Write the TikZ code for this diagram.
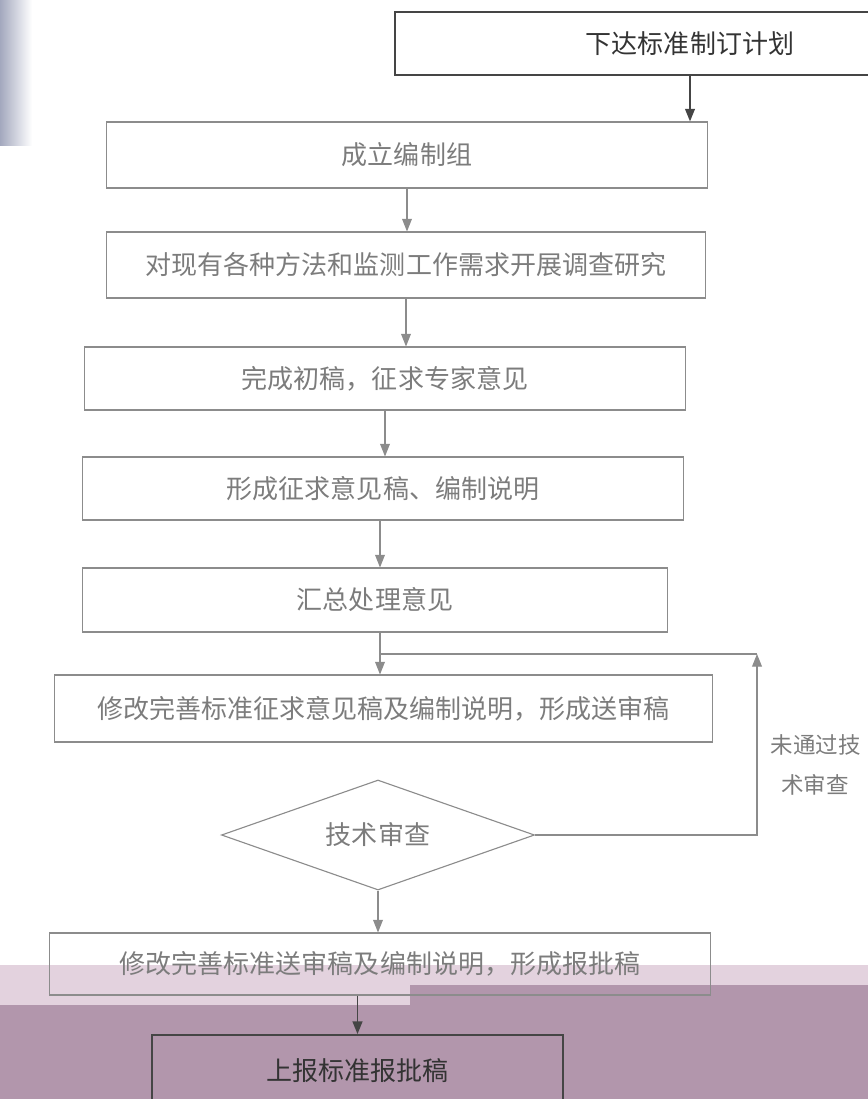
\documentclass[tikz,border=0pt]{standalone}
\usepackage{fontspec}
\setmainfont{Noto Sans CJK SC}
\usetikzlibrary{positioning,arrows.meta,shapes.geometric}
\definecolor{linegray}{HTML}{8C8C8C}
\definecolor{textgray}{HTML}{7C7C7C}
\definecolor{darkline}{HTML}{454545}
\definecolor{mauve}{HTML}{B296AC}
\definecolor{paleband}{HTML}{E3D2DE}
\definecolor{scanedge}{HTML}{A3A8BE}

\begin{document}
\begin{tikzpicture}[
    x=0.025cm, y=-0.025cm,
    >={Triangle[length=9pt,width=7pt]},
    box/.style={draw=linegray, line width=0.8pt, text=textgray, font=\fontsize{18.5}{22}\selectfont},
    darkbox/.style={box, draw=darkline, line width=1.3pt, text=black!80},
    decision/.style={diamond, draw=linegray, line width=0.8pt, text=textgray, inner sep=0pt,
      shape aspect=2.85, font=\fontsize{18.5}{22}\selectfont},
    flow/.style={->, draw=linegray, line width=0.8pt, color=linegray},
    darkflow/.style={->, draw=darkline, line width=1.1pt, color=darkline}
]

  \useasboundingbox (0,0) rectangle (868,1099);
  \clip (0,0) rectangle (868,1099);

  % fondo della scansione
  \shade[left color=scanedge, right color=white] (0,0) rectangle (32,145);
  \fill[paleband] (0,965) rectangle (868,985);
  \fill[paleband] (0,985) rectangle (410,1005);
  \fill[mauve] (410,985) rectangle (868,1005);
  \fill[mauve] (0,1005) rectangle (868,1099);

  % nodi
  \node[darkbox, minimum width=14.75cm, minimum height=1.575cm] (plan) at (690,43.5) {下达标准制订计划};
  \node[box, minimum width=15cm, minimum height=1.65cm] (group) at (407,155) {成立编制组};
  \node[box, minimum width=14.95cm, minimum height=1.65cm] (survey) at (406,265) {对现有各种方法和监测工作需求开展调查研究};
  \node[box, minimum width=15cm, minimum height=1.575cm] (draft) at (385,378.5) {完成初稿，征求专家意见};
  \node[box, minimum width=15cm, minimum height=1.575cm] (consult) at (383,488.5) {形成征求意见稿、编制说明};
  \node[box, minimum width=14.6cm, minimum height=1.6cm] (summary) at (375,600) {汇总处理意见};
  \node[box, minimum width=16.425cm, minimum height=1.675cm] (revise) at (383.5,708.5) {修改完善标准征求意见稿及编制说明，形成送审稿};
  \node[decision, minimum width=7.825cm, minimum height=2.75cm] (review) at (378,835) {技术审查};
  \node[box, minimum width=16.5cm, minimum height=1.55cm] (approve) at (380,964) {修改完善标准送审稿及编制说明，形成报批稿};
  \node[darkbox, minimum width=10.275cm, minimum height=1.8cm] (submit) at (357.5,1071) {上报标准报批稿};
  \node[text=textgray, font=\fontsize{16}{28}\selectfont, align=left, anchor=west] (fail) at (766,765)
    {未通过技\\\hspace*{0.45em}术审查};

  \coordinate (merge) at (380,654);
  \coordinate (back) at (757,654);

  % frecce principali
  \draw[darkflow] (plan.south) -- (plan.south |- group.north);
  \draw[flow] (group.south) -- (group.south |- survey.north);
  \draw[flow] (survey.south) -- (survey.south |- draft.north);
  \draw[flow] (draft.south) -- (draft.south |- consult.north);
  \draw[flow] (consult.south -| merge) -- (merge |- summary.north);
  \draw[flow, -] (summary.south -| merge) -- (merge);
  \draw[flow] (merge) -- (merge |- revise.north);
  \draw[flow] (review.south) -- (review.south |- approve.north);
  \draw[darkflow] (submit.north |- approve.south) -- (submit.north);

  % ritorno: revisione tecnica non superata
  \draw[flow] (review.east) -| (back);
  \draw[flow, -] (back) -- (merge);

\end{tikzpicture}
\end{document}
